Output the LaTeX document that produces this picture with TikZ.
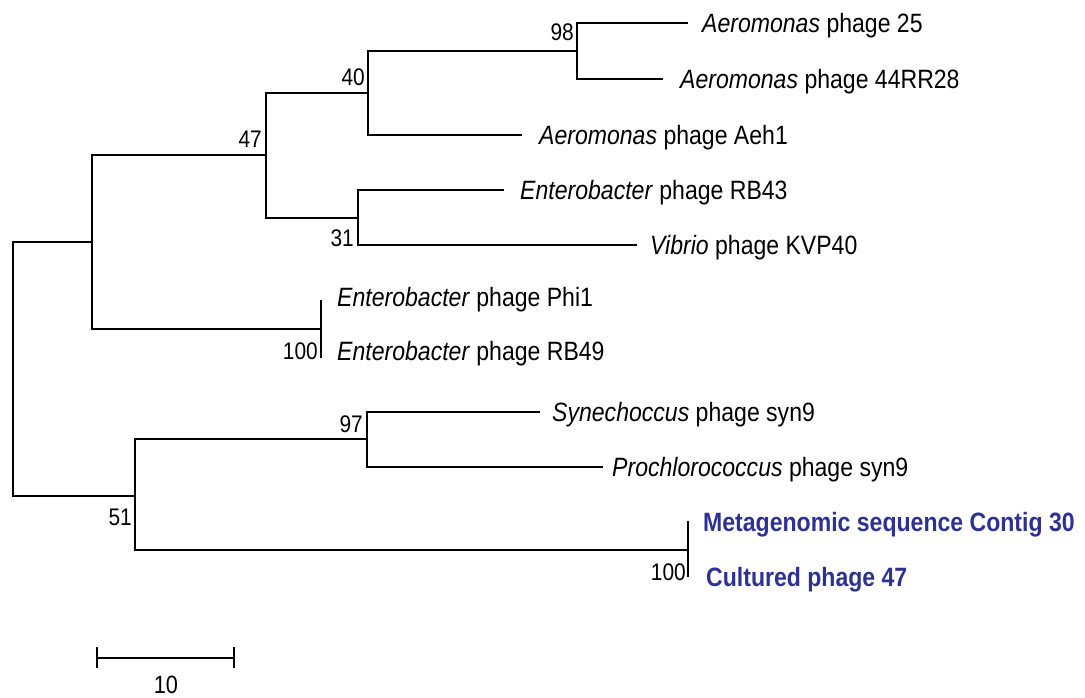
\documentclass[tikz,border=0pt]{standalone}
\usepackage{fontspec}
\setmainfont[FakeStretch=0.87]{Liberation Sans}
\definecolor{contigblue}{RGB}{46,49,146}

\begin{document}
\begin{tikzpicture}[x=1pt,y=-1pt,
  branch/.style={line width=2.9pt},
  twig/.style={line width=2.1pt},
  leaf/.style={anchor=west,inner sep=0pt,text height=19pt,text depth=0pt,font=\fontsize{26.5}{28}\selectfont},
  newseq/.style={leaf,font=\fontsize{26.5}{28}\selectfont\bfseries,text=contigblue},
  boot/.style={anchor=base east,inner sep=0pt,font=\fontsize{24}{26}\selectfont}]
  \useasboundingbox (0,0) rectangle (1085,698);

  \coordinate (root) at (13,369);
  \coordinate (A) at (92,242);
  \coordinate (n47) at (266,155);
  \coordinate (n40) at (368,93);
  \coordinate (n98) at (577,51);
  \coordinate (n31) at (358,218);
  \coordinate (n100a) at (321,329);
  \coordinate (B) at (135,496);
  \coordinate (n97) at (367,439);
  \coordinate (n100b) at (688,550);

  \coordinate (t25) at (688,23);
  \coordinate (t44) at (663,79);
  \coordinate (taeh1) at (522,135);
  \coordinate (trb43) at (504,190);
  \coordinate (tkvp) at (637,245);
  \coordinate (tphi1) at (321,300);
  \coordinate (trb49) at (321,358);
  \coordinate (tsyn) at (540,412);
  \coordinate (tpro) at (603,467);
  \coordinate (tcontig) at (688,521);
  \coordinate (tcult) at (688,577);

  \node[leaf] (ae25) at (702,23) {\textit{Aeromonas} phage 25};
  \node[leaf] (ae44) at (680,79) {\textit{Aeromonas} phage 44RR28};
  \node[leaf] (aeh1) at (539,135) {\textit{Aeromonas} phage Aeh1};
  \node[leaf] (rb43) at (520,190) {\textit{Enterobacter} phage RB43};
  \node[leaf] (kvp40) at (650,245) {\textit{Vibrio} phage KVP40};
  \node[leaf] (phi1) at (337,297) {\textit{Enterobacter} phage Phi1};
  \node[leaf] (rb49) at (337,351) {\textit{Enterobacter} phage RB49};
  \node[leaf] (syn9) at (552,412) {\textit{Synechoccus} phage syn9};
  \node[leaf] (pro9) at (612,467) {\textit{Prochlorococcus} phage syn9};
  \node[newseq] (contig) at (703,522) {Metagenomic sequence Contig 30};
  \node[newseq] (cult47) at (706,577) {Cultured phage 47};

  \draw[branch] (root) |- (A);
  \draw[branch] (root) |- (B);
  \draw[branch] (A) |- (n47);
  \draw[branch] (A) |- (n100a);
  \draw[branch] (n47) |- (n40);
  \draw[branch] (n47) |- (n31);
  \draw[branch] (n40) |- (n98);
  \draw[branch] (n40) |- (taeh1);
  \draw[twig] (n98) |- (t25);
  \draw[twig] (n98) |- (t44);
  \draw[branch] (n31) |- (trb43);
  \draw[branch] (n31) |- (tkvp);
  \draw[twig] (tphi1) -- (trb49);
  \draw[branch] (B) |- (n97);
  \draw[branch] (B) |- (n100b);
  \draw[branch] (n97) |- (tsyn);
  \draw[branch] (n97) |- (tpro);
  \draw[twig] (tcontig) -- (tcult);

  \node[boot] (b98) at (574,41) {98};
  \node[boot] (b40) at (365,86) {40};
  \node[boot] (b47) at (262,148) {47};
  \node[boot] (b31) at (354,247) {31};
  \node[boot] (b100a) at (318,359) {100};
  \node[boot] (b97) at (363,432) {97};
  \node[boot] (b51) at (132,525) {51};
  \node[boot] (b100b) at (686,580) {100};

  \draw[branch] (97,647) -- (97,668) (97,658) -- (234,658) (234,647) -- (234,668);
  \node[font=\fontsize{25}{27}\selectfont] (scale) at (166,685) {10};
\end{tikzpicture}
\end{document}
